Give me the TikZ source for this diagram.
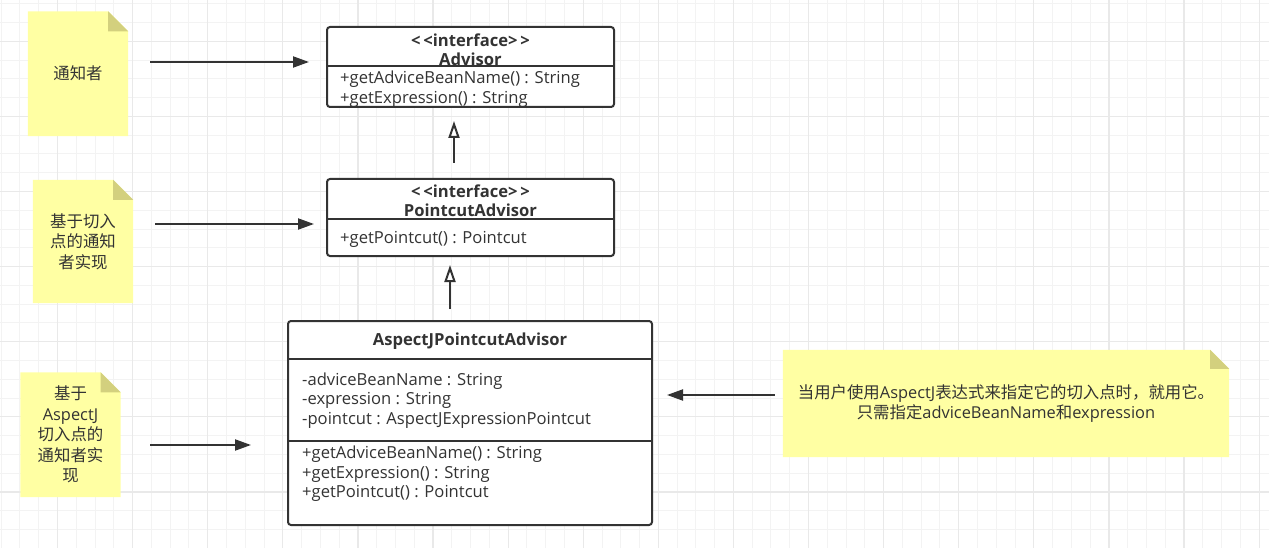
\documentclass[tikz,border=0pt]{standalone}
\usepackage{fontspec}
\setmainfont{Open Sans}
\newfontfamily\cjk{Noto Sans CJK SC}
\usetikzlibrary{arrows.meta}
\definecolor{ink}{HTML}{333333}
\definecolor{notefill}{HTML}{FFFFA3}
\definecolor{foldfill}{HTML}{D3D07E}
\definecolor{gridminor}{HTML}{F3F3F3}
\definecolor{gridmajor}{HTML}{E9E9E9}
\pgfdeclarelayer{gridlayer}
\pgfdeclarelayer{shapelayer}
\pgfsetlayers{gridlayer,shapelayer,main}
\tikzset{
  txt/.style={font=\fontsize{16.6}{20.5}\selectfont, text=ink, inner sep=0pt, yshift=-1.5pt},
  ctxt/.style={font=\fontsize{16.4}{20.5}\selectfont\cjk, text=ink, inner sep=0pt},
  notebox/.style={ctxt, align=center, minimum width=100pt, minimum height=124.5pt},
  umlbox/.style={draw=ink, line width=2pt, rounded corners=3pt, fill=white},
  divider/.style={draw=ink, line width=2pt},
  arr/.style={draw=ink, line width=2pt, -{Triangle[length=16pt,width=11pt]}},
  inh/.style={draw=ink, line width=2pt, -{Triangle[open,length=17pt,width=11pt,fill=white]}},
}
\newcommand{\lat}[1]{{\fontsize{16.4}{20.5}\rmfamily #1}}
\newcommand{\notefold}[2]{%
  \fill[notefill] (#1.south west) -- (#1.north west) -- ([xshift=-#2]#1.north east) -- ([yshift=-#2]#1.north east) -- (#1.south east) -- cycle;
  \fill[foldfill] ([xshift=-#2]#1.north east) -- ([yshift=-#2]#1.north east) -- ([xshift=-#2,yshift=-#2]#1.north east) -- cycle;}
\begin{document}
\begin{tikzpicture}[x=1pt,y=-1pt]
\useasboundingbox (0,0) rectangle (1269,548);
% grid
\begin{pgfonlayer}{gridlayer}
  \fill[white] (0,0) rectangle (1269,548);
  \foreach \i in {0,...,67} \draw[gridminor, line width=1pt] ({1.2+18.775*\i},0) -- ({1.2+18.775*\i},548);
  \foreach \i in {0,...,29} \draw[gridminor, line width=1pt] (0,{3.75+18.775*\i}) -- (1269,{3.75+18.775*\i});
  \foreach \i in {0,...,16} \draw[gridmajor, line width=1.2pt] ({57.5+75.1*\i},0) -- ({57.5+75.1*\i},548);
  \foreach \i in {0,...,6} \draw[gridmajor, line width=1.2pt] (0,{41.3+75.1*\i}) -- (1269,{41.3+75.1*\i});
\end{pgfonlayer}

% notes
\node[notebox] (n1) at (78,73.75) {通知者};
\node[notebox, minimum height=123pt] (n2) at (83,241.5) {基于切入\\点的通知\\者实现};
\node[notebox] (n3) at (70.5,434.75) {基于\\\lat{AspectJ}\\切入点的\\通知者实\\现};
\node[notebox, minimum width=446pt, minimum height=107pt] (n4) at (1006,403.5) {当用户使用\lat{AspectJ}表达式来指定它的切入点时，就用它。\\只需指定\lat{adviceBeanName}和\lat{expression}};
\begin{pgfonlayer}{shapelayer}
  \notefold{n1}{20pt}
  \notefold{n2}{20pt}
  \notefold{n3}{20pt}
  \notefold{n4}{19pt}
\end{pgfonlayer}

% UML boxes
\begin{pgfonlayer}{shapelayer}
  \node[umlbox, minimum width=287pt, minimum height=80pt] (adv) at (470.5,67) {};
  \node[umlbox, minimum width=287pt, minimum height=77pt] (pa) at (470.5,217.5) {};
  \node[umlbox, minimum width=364pt, minimum height=204pt] (aj) at (470,423) {};
  \draw[divider] (adv.west |- 0,66.5) -- (adv.east |- 0,66.5);
  \draw[divider] (pa.west |- 0,219.5) -- (pa.east |- 0,219.5);
  \draw[divider] (aj.west |- 0,359) -- (aj.east |- 0,359);
  \draw[divider] (aj.west |- 0,441) -- (aj.east |- 0,441);
\end{pgfonlayer}

\node[txt] (adv1) at (470.5,38.5) {\textbf{<\,<interface>\,>}};
\node[txt] (adv2) at (470.5,58) {\textbf{Advisor}};
\node[txt, anchor=west] (adv3) at (340,78) {+getAdviceBeanName() : String};
\node[txt, anchor=west] (adv4) at (340,98) {+getExpression() : String};

\node[txt] (pa1) at (470.5,189.5) {\textbf{<\,<interface>\,>}};
\node[txt] (pa2) at (470.5,208.6) {\textbf{PointcutAdvisor}};
\node[txt, anchor=west] (pa3) at (340,237.5) {+getPointcut() : Pointcut};

\node[txt] (aj1) at (470,340) {\textbf{AspectJPointcutAdvisor}};
\node[txt, anchor=west] (aj2) at (302,379.5) {-adviceBeanName : String};
\node[txt, anchor=west] (aj3) at (302,399) {-expression : String};
\node[txt, anchor=west] (aj4) at (302,418.7) {-pointcut : AspectJExpressionPointcut};
\node[txt, anchor=west] (aj5) at (302,452.4) {+getAdviceBeanName() : String};
\node[txt, anchor=west] (aj6) at (302,472.5) {+getExpression() : String};
\node[txt, anchor=west] (aj7) at (302,492) {+getPointcut() : Pointcut};

% connectors
\draw[arr] ([xshift=22pt,yshift=11.75pt]n1.east) -- ([xshift=-17pt,yshift=5pt]adv.west);
\draw[arr] ([xshift=22pt,yshift=17.5pt]n2.east) -- ([xshift=-12pt,yshift=-6.5pt]pa.west);
\draw[arr] ([xshift=29.5pt,yshift=-10.25pt]n3.east) -- ([xshift=-36pt,yshift=-22pt]aj.west);
\draw[arr] ([xshift=-8pt,yshift=8.5pt]n4.west) -- ([xshift=14pt,yshift=28pt]aj.east);
\draw[inh] ([xshift=-16.5pt,yshift=15pt]pa.north) -- ([xshift=-16.5pt,yshift=-13pt]adv.south);
\draw[inh] ([xshift=-20pt,yshift=11pt]aj.north) -- ([xshift=-20.5pt,yshift=-8pt]pa.south);
\end{tikzpicture}
\end{document}
